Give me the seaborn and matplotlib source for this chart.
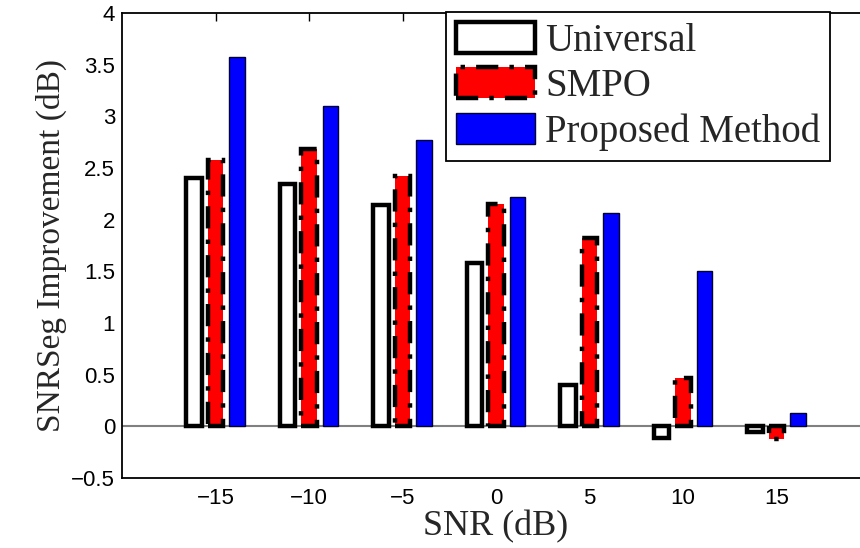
import numpy as np
import pandas as pd
import matplotlib
matplotlib.use('Agg')
import matplotlib.pyplot as plt
import seaborn as sns

# values
snr = [-15, -10, -5, 0, 5, 10, 15]
universal = [2.40, 2.35, 2.14, 1.58, 0.40, -0.11, -0.05]
smpo = [2.58, 2.68, 2.42, 2.15, 1.82, 0.47, -0.12]
proposed = [3.57, 3.10, 2.77, 2.22, 2.06, 1.50, 0.13]
methods = ['Universal', 'SMPO', 'Proposed Method']
colors = ['white', 'red', 'blue']

df = pd.DataFrame({
    'SNR': snr * 3,
    'value': universal + smpo + proposed,
    'method': [m for m in methods for _ in snr],
})

sns.set_style('white')
plt.rcParams['font.family'] = ['Liberation Sans', 'DejaVu Sans']

fig = plt.figure(figsize=(8.6, 5.48), dpi=100)
# axes runs past the right edge of the figure, as in the reference
ax = fig.add_axes([122 / 860, 1 - 478 / 548, 748 / 860, 465 / 548])

ax.axhline(0, color='#808080', lw=1.5, zorder=0)
sns.barplot(data=df, x='SNR', y='value', hue='method', hue_order=methods,
            palette=colors, saturation=1, native_scale=True, width=0.69,
            gap=0.3, errorbar=None, legend=False, ax=ax, zorder=2)

# MATLAB-like bar edges
styles = [dict(edgecolor='black', linewidth=3.2, linestyle='-'),
          dict(edgecolor='black', linewidth=3.2, linestyle=(0, (5, 2.5, 1, 2.5))),
          dict(edgecolor='#000033', linewidth=1.0, linestyle='-')]
for cont, st in zip(ax.containers, styles):
    for p in cont.patches:
        p.set_edgecolor(st['edgecolor'])
        p.set_linewidth(st['linewidth'])
        p.set_linestyle(st['linestyle'])

ax.set_xlim(-20, 20)
ax.set_ylim(-0.5, 4)
ax.set_xticks(snr)
ax.set_xticklabels(['\u221215', '\u221210', '\u22125', '0', '5', '10', '15'])
ax.set_yticks(np.arange(-0.5, 4.01, 0.5))
ax.set_yticklabels(['\u22120.5', '0', '0.5', '1', '1.5', '2', '2.5', '3', '3.5', '4'])
ax.tick_params(direction='in', length=6, width=1, top=True, right=True,
               labelsize=16, colors='black')
ax.tick_params(axis='x', pad=7)
ax.tick_params(axis='y', pad=5)
for s in ax.spines.values():
    s.set_color('black')
    s.set_linewidth(1.3)

ax.set_xlabel('SNR (dB)', family='Liberation Serif', fontsize=26, labelpad=1)
ax.set_ylabel('SNRSeg Improvement (dB)', family='Liberation Serif', fontsize=24, labelpad=3)

handles = [c.patches[0] for c in ax.containers]
leg = fig.legend(handles, methods, loc='upper left',
                 bbox_to_anchor=(446 / 860, 1 - 12 / 548),
                 prop={'family': 'Liberation Serif', 'size': 28},
                 frameon=True, fancybox=False, framealpha=1,
                 handlelength=2.05, handleheight=0.85, handletextpad=0.25,
                 labelspacing=0.2, borderpad=0.25, borderaxespad=0)
leg.get_frame().set_edgecolor('black')
leg.get_frame().set_linewidth(1.3)

fig.savefig('out.png', dpi=100)
